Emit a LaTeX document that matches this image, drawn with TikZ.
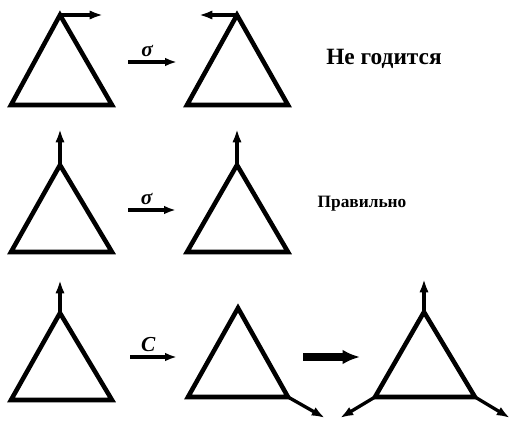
\documentclass[tikz,border=0pt]{standalone}
\usepackage{fontspec}
\setmainfont{Liberation Serif}
\usetikzlibrary{arrows.meta}
\begin{document}
\begin{tikzpicture}[x=0.75pt,y=-0.75pt,
  tri/.style={line width=3.4pt,line join=miter},
  vec/.style={line width=2.5pt,-{Latex[length=10pt,width=7pt]}},
  op/.style={line width=2.3pt,-{Latex[length=9pt,width=6.5pt]}},
  big/.style={line width=6.5pt,-{Latex[length=13pt,width=11pt]}},
  lab/.style={font=\bfseries\itshape\fontsize{16}{16}\selectfont,inner sep=0pt},
  txt/.style={font=\bfseries,inner sep=0pt}]
\useasboundingbox (0,0) rectangle (510,421);
% row 1
\coordinate (a1) at (60,15); \coordinate (b1) at (11,105); \coordinate (c1) at (112,105);
\draw[tri] (a1) -- (b1) -- (c1) -- cycle;
\coordinate (a1e) at (103,15);
\draw[vec] (a1) -- (a1e);
\coordinate (a2) at (237,15); \coordinate (b2) at (187,105); \coordinate (c2) at (288,105);
\draw[tri] (a2) -- (b2) -- (c2) -- cycle;
\coordinate (a2e) at (199,15);
\draw[vec] (a2) -- (a2e);
\coordinate (o1s) at (128,62); \coordinate (o1e) at (177,62);
\draw[op] (o1s) -- (o1e) node[lab,midway,above=3pt,xshift=-4pt] (l1) {σ};
\node[txt,font=\bfseries\fontsize{17.5}{17.5}\selectfont] (t1) at (384,59) {Не годится};
% row 2
\coordinate (a3) at (60,165); \coordinate (b3) at (11,252); \coordinate (c3) at (112,252);
\draw[tri] (a3) -- (b3) -- (c3) -- cycle;
\coordinate (a3e) at (60,129);
\draw[vec] (a3) -- (a3e);
\coordinate (a4) at (237,165); \coordinate (b4) at (187,252); \coordinate (c4) at (288,252);
\draw[tri] (a4) -- (b4) -- (c4) -- cycle;
\coordinate (a4e) at (237,129);
\draw[vec] (a4) -- (a4e);
\coordinate (o2s) at (128,210); \coordinate (o2e) at (176,210);
\draw[op] (o2s) -- (o2e) node[lab,midway,above=3pt,xshift=-4pt] (l2) {σ};
\node[txt,font=\bfseries\fontsize{13}{13}\selectfont] (t2) at (362,204) {Правильно};
% row 3
\coordinate (a5) at (60,313); \coordinate (b5) at (11,400); \coordinate (c5) at (112,400);
\draw[tri] (a5) -- (b5) -- (c5) -- cycle;
\coordinate (a5e) at (60,280);
\draw[vec] (a5) -- (a5e);
\coordinate (a6) at (238,308); \coordinate (b6) at (188,397); \coordinate (c6) at (288,397);
\draw[tri] (a6) -- (b6) -- (c6) -- cycle;
\coordinate (c6e) at (325,418);
\draw[vec] (c6) -- (c6e);
\coordinate (o3s) at (130,357); \coordinate (o3e) at (177,357);
\draw[op] (o3s) -- (o3e) node[lab,midway,above=3pt,xshift=-4pt] (l3) {C};
\coordinate (bs) at (303,357); \coordinate (be) at (360,357);
\draw[big] (bs) -- (be);
\coordinate (a7) at (424,312); \coordinate (b7) at (375,397); \coordinate (c7) at (475,397);
\draw[tri] (a7) -- (b7) -- (c7) -- cycle;
\coordinate (a7e) at (424,279);
\draw[vec] (a7) -- (a7e);
\coordinate (b7e) at (340,418);
\draw[vec] (b7) -- (b7e);
\coordinate (c7e) at (510,418);
\draw[vec] (c7) -- (c7e);
\end{tikzpicture}
\end{document}
